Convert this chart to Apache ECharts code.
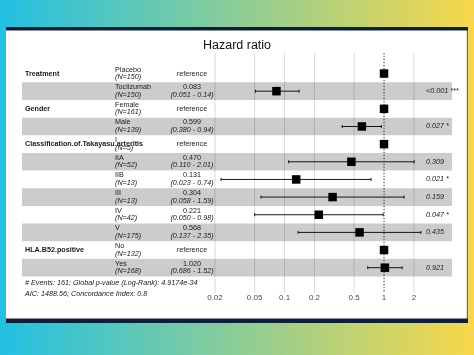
<!DOCTYPE html>
<html><head><meta charset="utf-8">
<script src="https://cdn.jsdelivr.net/npm/echarts@6/dist/echarts.min.js"></script>
<style>html,body{margin:0;padding:0;background:#fff}#c{width:474px;height:355px}</style>
</head><body><div id="c"></div>
<script>
// ---- data ----
const variables = ['Treatment', '', 'Gender', '', 'Classification.of.Takayasu.arteritis', '', '', '', '', '', 'HLA.B52.positive', ''];
const levels = ['Placebo', 'Toclizumab', 'Female', 'Male', 'I', 'IIA', 'IIB', 'III', 'IV', 'V', 'No', 'Yes'];
const nCounts = [150, 150, 161, 139, 5, 52, 13, 13, 42, 175, 132, 168];
const hazardRatios = [1, 0.083, 1, 0.599, 1, 0.470, 0.131, 0.304, 0.221, 0.568, 1, 1.020];
const ciLow = [null, 0.051, null, 0.380, null, 0.110, 0.023, 0.058, 0.050, 0.137, null, 0.686];
const ciHigh = [null, 0.14, null, 0.94, null, 2.01, 0.74, 1.59, 0.98, 2.35, null, 1.52];
const estLabels = ['reference', '0.083', 'reference', '0.599', 'reference', '0.470', '0.131', '0.304', '0.221', '0.568', 'reference', '1.020'];
const ciLabels = ['', '(0.051 - 0.14)', '', '(0.380 - 0.94)', '', '(0.110 - 2.01)', '(0.023 - 0.74)', '(0.058 - 1.59)', '(0.050 - 0.98)', '(0.137 - 2.35)', '', '(0.686 - 1.52)'];
const pValues = ['', '<0.001', '', '0.027', '', '0.309', '0.021', '0.159', '0.047', '0.435', '', '0.921'];
const stars = ['', '***', '', '*', '', '', '*', '', '*', '', '', ''];
const tickValues = [0.02, 0.05, 0.1, 0.2, 0.5, 1, 2];
const tickLabels = ['0.02', '0.05', '0.1', '0.2', '0.5', '1', '2'];
const titleText = 'Hazard ratio';
const footLines = ['# Events: 161; Global p-value (Log-Rank): 4.9174e-34', 'AIC: 1488.56; Concordance Index: 0.8'];

// ---- layout ----
const FONT = '"Liberation Sans", Arial, sans-serif';
const COL_VAR = 25, COL_LEVEL = 115, COL_EST = 192, COL_P = 426;
const TXT = 7.2;
const rows = levels.map((_, i) => i);

function txt(x, y, text, extra) {
  return { type: 'text', style: Object.assign({ x: x, y: y, text: text, fill: '#1a1a1a', fontSize: TXT, fontFamily: FONT, align: 'left', verticalAlign: 'middle' }, extra || {}) };
}

const chart = echarts.init(document.getElementById('c'), null, { renderer: 'canvas' });
const W = 474, H = 355;

chart.setOption({
  animation: false,
  title: { text: titleText, left: 'center', top: 34, textStyle: { fontFamily: FONT, fontSize: 12.5, fontWeight: 'normal', color: '#111' } },
  grid: { left: 22, right: 22, top: 53, bottom: 64 },
  xAxis: { type: 'log', logBase: 10, min: 0.00023, max: 4.82, show: false },
  yAxis: { type: 'value', inverse: true, min: -0.663, max: 12.82, show: false },
  graphic: [
    { type: 'rect', z: -10, silent: true, shape: { x: 0, y: 0, width: W, height: H },
      style: { fill: new echarts.graphic.LinearGradient(0, 0, 1, 0, [{ offset: 0, color: '#21c1e3' }, { offset: 1, color: '#f8d84a' }]) } },
    { type: 'rect', z: -9, silent: true, shape: { x: 6, y: 27, width: 462, height: 296 }, style: { fill: '#0c1f3b' } },
    { type: 'rect', z: -8, silent: true, shape: { x: 6, y: 30.5, width: 461, height: 288 }, style: { fill: '#ffffff' } },
    { type: 'line', z: -7, silent: true, shape: { x1: 467, y1: 30.5, x2: 467, y2: 318 }, style: { stroke: '#bdbdbd', lineWidth: 1 } },
    { type: 'text', z: 5, silent: true, style: { x: COL_VAR, y: 283, text: footLines[0], fontSize: TXT, fontStyle: 'italic', fontFamily: FONT, fill: '#1a1a1a', verticalAlign: 'middle' } },
    { type: 'text', z: 5, silent: true, style: { x: COL_VAR, y: 294, text: footLines[1], fontSize: TXT, fontStyle: 'italic', fontFamily: FONT, fill: '#1a1a1a', verticalAlign: 'middle' } }
  ],
  series: [
    { // vertical grid lines and tick labels
      type: 'custom', z: 1, silent: true,
      data: tickValues.map((v, k) => [v, 0, k]),
      renderItem: function (params, api) {
        const cs = params.coordSys;
        const x = api.coord([api.value(0), 0])[0];
        const k = api.value(2);
        return { type: 'group', children: [
          { type: 'line', shape: { x1: x, y1: cs.y, x2: x, y2: cs.y + cs.height + 2 }, style: { stroke: '#dadada', lineWidth: 1 } },
          { type: 'text', style: { x: x, y: cs.y + cs.height + 7, text: tickLabels[k], fontSize: 8, fontFamily: FONT, fill: '#4d4d4d', align: 'center', verticalAlign: 'middle' } }
        ] };
      }
    },
    { // alternating row bands
      type: 'custom', z: 2, silent: true,
      data: rows.filter(i => i % 2 === 1).map(i => [1, i]),
      renderItem: function (params, api) {
        const cs = params.coordSys;
        const i = api.value(1);
        const y0 = api.coord([1, i])[1], y1 = api.coord([1, i + 1])[1];
        return { type: 'rect', shape: { x: cs.x, y: y0, width: cs.width, height: y1 - y0 }, style: { fill: 'rgba(0,0,0,0.2)' } };
      }
    },
    { // points
      type: 'custom', z: 3, silent: true,
      data: rows.map(i => [hazardRatios[i], i]),
      renderItem: function (params, api) {
        const p = api.coord([api.value(0), api.value(1) + 0.5]);
        const s = 8.5;
        return { type: 'rect', shape: { x: p[0] - s / 2, y: p[1] - s / 2, width: s, height: s }, style: { fill: '#000' } };
      }
    },
    { // confidence intervals
      type: 'custom', z: 3, silent: true,
      data: rows.filter(i => ciLow[i] != null).map(i => [ciLow[i], i, ciHigh[i]]),
      renderItem: function (params, api) {
        const i = api.value(1);
        const a = api.coord([api.value(0), i + 0.5]);
        const b = api.coord([api.value(2), i + 0.5]);
        const hh = 1.5;
        const st = { stroke: '#000', lineWidth: 0.9 };
        return { type: 'group', children: [
          { type: 'line', shape: { x1: a[0], y1: a[1], x2: b[0], y2: b[1] }, style: st },
          { type: 'line', shape: { x1: a[0], y1: a[1] - hh, x2: a[0], y2: a[1] + hh }, style: st },
          { type: 'line', shape: { x1: b[0], y1: b[1] - hh, x2: b[0], y2: b[1] + hh }, style: st }
        ] };
      }
    },
    { // reference line at HR = 1
      type: 'custom', z: 4, silent: true,
      data: [[1, 0]],
      renderItem: function (params, api) {
        const cs = params.coordSys;
        const x = api.coord([api.value(0), 0])[0];
        return { type: 'line', shape: { x1: x, y1: cs.y, x2: x, y2: cs.y + cs.height }, style: { stroke: '#333', lineWidth: 0.9, lineDash: [1, 2] } };
      }
    },
    { // table text
      type: 'custom', z: 6, silent: true,
      data: rows.map(i => [1, i]),
      renderItem: function (params, api) {
        const i = api.value(1);
        const yc = api.coord([1, i + 0.5])[1];
        const ch = [];
        if (variables[i]) ch.push(txt(COL_VAR, yc, variables[i], { fontWeight: 'bold' }));
        ch.push(txt(COL_LEVEL, yc - 4, levels[i]));
        ch.push(txt(COL_LEVEL, yc + 3.5, '(N=' + nCounts[i] + ')', { fontStyle: 'italic' }));
        if (!ciLabels[i]) {
          ch.push(txt(COL_EST, yc, estLabels[i], { align: 'center' }));
        } else {
          ch.push(txt(COL_EST, yc - 4, estLabels[i], { align: 'center' }));
          ch.push(txt(COL_EST, yc + 3.5, ciLabels[i], { align: 'center', fontStyle: 'italic' }));
        }
        if (pValues[i]) ch.push(txt(COL_P, yc, pValues[i] + (stars[i] ? ' ' + stars[i] : ''), { fontStyle: 'italic' }));
        return { type: 'group', children: ch };
      }
    }
  ]
});
</script>
</body></html>
